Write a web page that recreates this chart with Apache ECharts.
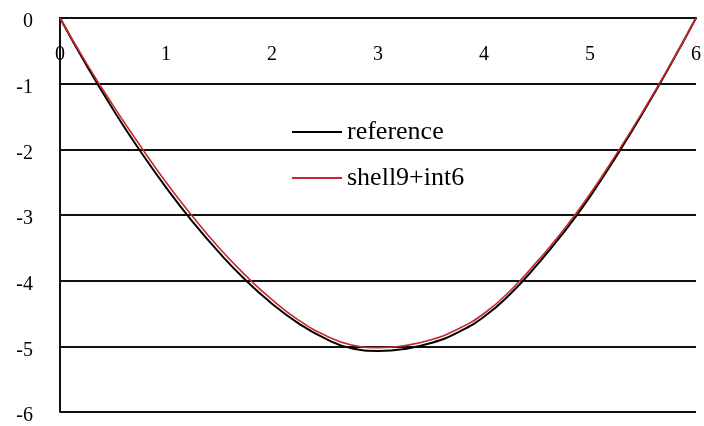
<!DOCTYPE html>
<html>
<head>
<meta charset="utf-8">
<script src="https://cdn.jsdelivr.net/npm/echarts@6/dist/echarts.min.js"></script>
<style>
html,body{margin:0;padding:0;background:#fff;}
#chart{width:704px;height:426px;}
</style>
</head>
<body>
<div id="chart"></div>
<script>
var xs = [0, 0.25, 0.5, 0.75, 1, 1.25, 1.5, 1.75, 2, 2.25, 2.5, 2.75, 3, 3.25, 3.5, 3.75, 4, 4.25, 4.5, 4.75, 5, 5.25, 5.5, 5.75, 6];
var referenceVals = [0, -0.72, -1.39, -2.01, -2.58, -3.10, -3.57, -3.99, -4.35, -4.65, -4.88, -5.03, -5.07, -5.04, -4.95, -4.79, -4.55, -4.20, -3.76, -3.27, -2.72, -2.10, -1.44, -0.74, 0];
var shellVals = [0, -0.69, -1.33, -1.93, -2.50, -3.02, -3.50, -3.92, -4.29, -4.60, -4.83, -4.98, -5.02, -4.99, -4.90, -4.74, -4.50, -4.15, -3.71, -3.23, -2.68, -2.07, -1.42, -0.73, 0];
var xTicks = ['0', '1', '2', '3', '4', '5', '6'];
var yTicks = ['-6', '-5', '-4', '-3', '-2', '-1', '0'];
var seriesNames = ['reference', 'shell9+int6'];

function pairs(vals) {
  return xs.map(function (x, i) { return [x, vals[i]]; });
}

var chart = echarts.init(document.getElementById('chart'), null, {renderer: 'canvas'});
var font = '"Liberation Serif", "Times New Roman", serif';
chart.setOption({
  animation: false,
  backgroundColor: '#fff',
  grid: {left: 60, top: 18, right: 2, bottom: 13, containLabel: false},
  legend: {
    orient: 'vertical',
    left: 287,
    top: 114,
    itemWidth: 50,
    itemHeight: 2,
    itemGap: 20,
    icon: 'rect',
    data: seriesNames,
    textStyle: {fontFamily: font, fontSize: 26, color: '#000'}
  },
  xAxis: {
    type: 'value',
    position: 'top',
    min: 0, max: 6, interval: 1,
    axisLine: {show: true, onZero: false, lineStyle: {color: '#111', width: 2}},
    axisTick: {show: false},
    splitLine: {show: false},
    axisLabel: {
      inside: true, margin: 27,
      fontFamily: font, fontSize: 20, color: '#000',
      formatter: function (v) { return xTicks[Math.round(v)]; }
    }
  },
  yAxis: {
    type: 'value',
    min: -6, max: 0, interval: 1,
    axisLine: {show: true, onZero: false, lineStyle: {color: '#111', width: 2}},
    axisTick: {show: false},
    splitLine: {show: true, lineStyle: {color: '#111', width: 2}},
    axisLabel: {
      margin: 27,
      fontFamily: font, fontSize: 20, color: '#000',
      verticalAlign: 'top',
      lineHeight: 8,
      formatter: function (v) { return yTicks[Math.round(v) + 6]; }
    }
  },
  series: [
    {
      name: seriesNames[0], type: 'line', smooth: true, symbol: 'none',
      data: pairs(referenceVals),
      lineStyle: {color: '#000', width: 2},
      itemStyle: {color: '#000'},
      z: 3
    },
    {
      name: seriesNames[1], type: 'line', smooth: true, symbol: 'none',
      data: pairs(shellVals),
      lineStyle: {color: '#c8282d', width: 1.6},
      itemStyle: {color: '#c8282d'},
      z: 4
    }
  ]
});
</script>
</body>
</html>
